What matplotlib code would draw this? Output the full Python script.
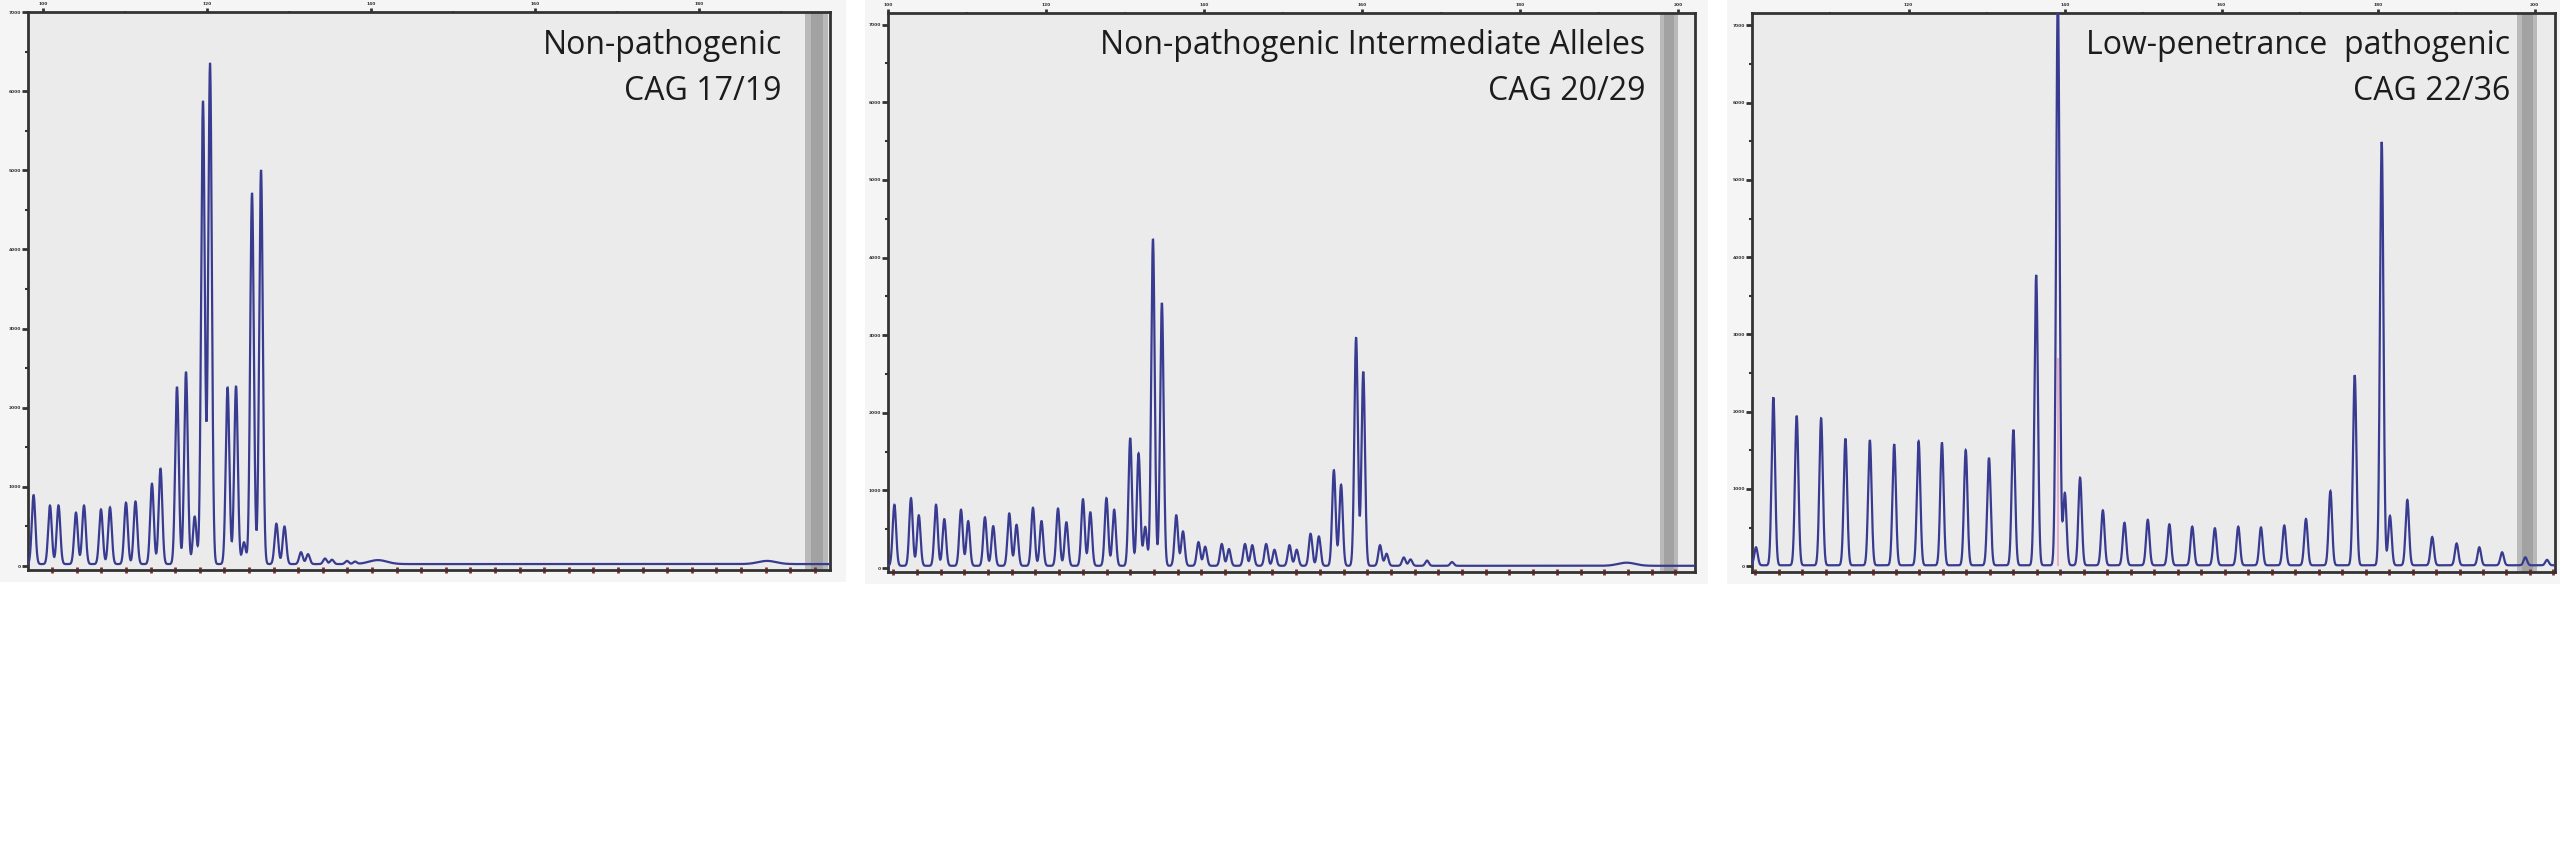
import numpy as np
import matplotlib
matplotlib.use("Agg")
import matplotlib.pyplot as plt
from matplotlib.patches import Rectangle
from matplotlib.ticker import MultipleLocator, FixedLocator

# ---------------- data ----------------
titles = [("Non-pathogenic", "CAG 17/19"),
          ("Non-pathogenic Intermediate Alleles", "CAG 20/29"),
          ("Low-penetrance  pathogenic", "CAG 22/36")]

# Panel 1 : peak positions (bp) and heights (RFU)
p1_bp = [98.85, 100.85, 101.89, 104.02, 105.0, 107.07, 108.17, 110.12, 111.28,
         113.29, 114.33, 116.34, 117.44, 118.5, 119.51, 120.37, 122.51, 123.54,
         124.51, 125.49, 126.59, 128.46, 129.45, 131.46, 132.32, 134.39, 135.24,
         137.07, 138.05]
p1_h = [870, 740, 740, 650, 740, 690, 715, 775, 790,
        1015, 1205, 2240, 2430, 600, 5850, 6320, 2230, 2250,
        275, 4690, 4980, 510, 475, 150, 125, 70, 55,
        40, 30]
p1_broad_bp = [140.85, 188.3]
p1_broad_h = [50, 40]

# Panel 2
p2_bp = [100.81, 102.91, 103.90, 106.08, 107.13, 109.24, 110.15, 112.27, 113.32,
         115.35, 116.27, 118.35, 119.43, 121.52, 122.58, 124.68, 125.61, 127.65,
         128.63, 130.66, 131.72, 132.56, 133.54, 134.67, 136.49, 137.34, 139.30,
         140.15, 142.25, 143.16, 145.19, 146.11, 147.87, 148.92, 150.82, 151.73,
         153.49, 154.54, 156.44, 157.35, 159.25, 160.16, 162.28, 163.11, 165.29,
         166.14, 168.23, 171.39]
p2_h = [786, 870, 650, 786, 600, 722, 575, 624, 510,
        674, 528, 747, 575, 737, 560, 856, 688, 870,
        722, 1645, 1447, 500, 4210, 3387, 650, 442, 304,
        245, 280, 215, 280, 265, 280, 206, 265, 206,
        412, 378, 1230, 1044, 2942, 2500, 265, 155, 107,
        82, 67, 48]
p2_broad_bp = [193.5]
p2_broad_h = [40]

# Panel 3
p3_bp = [100.51, 102.73, 105.71, 108.83, 111.94, 115.06, 118.17, 121.29, 124.27,
         127.31, 130.28, 133.40, 136.31, 139.08, 139.97, 141.92, 144.83, 147.59,
         150.57, 153.33, 156.25, 159.14, 162.13, 165.03, 168.01, 170.78, 173.90,
         177.01, 180.46, 181.51, 183.73, 186.91, 190.03, 192.93, 195.84, 198.81,
         201.58]
p3_h = [233, 2173, 1935, 1902, 1639, 1619, 1569, 1604, 1589,
        1490, 1391, 1753, 3758, 7400, 935, 1133, 711, 550,
        589, 530, 500, 479, 500, 490, 515, 599, 960,
        2460, 5480, 639, 846, 366, 282, 233, 168, 103,
        70]
p3_broad_bp = []
p3_broad_h = []
p3_marker_bp = 139.08
p3_marker_top = 2700

baselines = [25, 30, 12]

# axis ranges / ticks (bp and RFU)
xlims = [(98.17, 195.98), (100.0, 202.15), (100.0, 202.6)]
top_ticks = [[100, 120, 140, 160, 180], [100, 120, 140, 160, 180, 200],
             [120, 140, 160, 180, 200]]
ylims = [(-50, 7000), (-50, 7150), (-75, 7160)]
y_ticks = [0, 1000, 2000, 3000, 4000, 5000, 6000, 7000]
bands = [(192.93, 195.73), (197.7, 200.0), (197.8, 200.3)]
bin_offsets = [110.12, 130.66, 133.4]

# ---------------- layout (pixels of the 2560x859 canvas) ----------------
W, H = 2560, 859
axes_px = [(28, 12, 830, 570), (888, 13, 1695, 572), (1752, 13, 2555, 572)]
shot_px = [(0, 0, 846, 582), (865, 0, 1708, 584), (1727, 0, 2560, 584)]
text_right_px = [782, 1645, 2510]
line_base_px = [54, 100]

fig = plt.figure(figsize=(W / 100, H / 100), dpi=100)
fig.patch.set_facecolor("white")

for (x0, y0, x1, y1) in shot_px:
    fig.patches.append(Rectangle((x0 / W, 1 - y1 / H), (x1 - x0) / W, (y1 - y0) / H,
                                 transform=fig.transFigure, facecolor="#f5f5f5",
                                 edgecolor="none", zorder=-10))

peaks = [(p1_bp, p1_h, p1_broad_bp, p1_broad_h),
         (p2_bp, p2_h, p2_broad_bp, p2_broad_h),
         (p3_bp, p3_h, p3_broad_bp, p3_broad_h)]

sigma = 0.22
broad_sigma = 1.1
line_color = "#383b90"

for i in range(3):
    x0, y0, x1, y1 = axes_px[i]
    ax = fig.add_axes([x0 / W, 1 - y1 / H, (x1 - x0) / W, (y1 - y0) / H], zorder=1)
    ax.set_facecolor("#ebebeb")
    ax.set_xlim(*xlims[i])
    ax.set_ylim(*ylims[i])

    # gray band near right edge
    b0, b1 = bands[i]
    ax.axvspan(b0, b1, color="#b9b9b9", lw=0, zorder=1)
    ax.axvspan(b0 + (b1 - b0) * 0.25, b1 - (b1 - b0) * 0.2, color="#a2a2a2", lw=0, zorder=1)

    pos, hts, bpos, bh = peaks[i]
    xs = np.linspace(xlims[i][0], xlims[i][1], 8000)
    ys = np.full_like(xs, float(baselines[i]))
    for p, h in zip(pos, hts):
        ys += h * np.exp(-0.5 * ((xs - p) / sigma) ** 2)
    for p, h in zip(bpos, bh):
        ys += h * np.exp(-0.5 * ((xs - p) / broad_sigma) ** 2)

    if i == 2:
        ax.vlines(p3_marker_bp, 0, p3_marker_top, color="#e7a3c6", lw=1.2, zorder=2)
    ax.plot(xs, ys, color=line_color, lw=1.6, zorder=3, solid_joinstyle="miter")

    for s in ax.spines.values():
        s.set_color("#333333")
        s.set_linewidth(2.0)

    # y axis ticks (left, tiny labels)
    ax.yaxis.set_major_locator(FixedLocator(y_ticks))
    ax.yaxis.set_minor_locator(MultipleLocator(500))
    ax.tick_params(axis="y", which="major", direction="out", length=4, width=2,
                   color="#333333", labelsize=3.2, pad=1, labelcolor="#333333")
    ax.tick_params(axis="y", which="minor", direction="out", length=2, width=1.5,
                   color="#333333")
    for lab in ax.get_yticklabels():
        lab.set_fontweight("bold")

    # bottom axis: small dark-red bin marks
    ax.xaxis.set_major_locator(MultipleLocator(3, offset=bin_offsets[i] % 3))
    ax.tick_params(axis="x", which="major", direction="inout", length=4, width=2,
                   color="#8a2a2a", labelbottom=False)

    # top axis ticks with tiny labels
    sec = ax.secondary_xaxis("top")
    sec.xaxis.set_major_locator(FixedLocator(top_ticks[i]))
    sec.xaxis.set_minor_locator(MultipleLocator(10))
    sec.tick_params(axis="x", which="major", direction="out", length=3, width=2,
                    color="#333333", labelsize=3.2, pad=1, labelcolor="#333333")
    sec.tick_params(axis="x", which="minor", direction="inout", length=2, width=1.5,
                    color="#333333")
    sec.spines["top"].set_visible(False)
    for lab in sec.get_xticklabels():
        lab.set_fontweight("bold")

    # titles
    for j, line in enumerate(titles[i]):
        ax.text(text_right_px[i] / W, 1 - line_base_px[j] / H, line,
                transform=fig.transFigure, ha="right", va="baseline",
                fontsize=23, family="Open Sans", fontweight="medium",
                color="#1c1c1c", zorder=5)

fig.savefig("out.png", dpi=100, facecolor="white")
